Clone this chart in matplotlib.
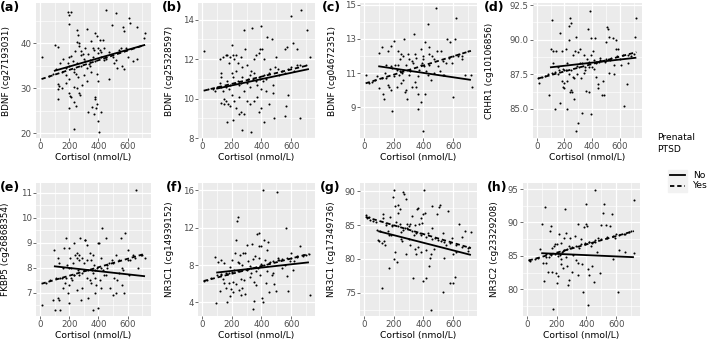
import numpy as np
import matplotlib.pyplot as plt
from matplotlib.lines import Line2D
from matplotlib.patches import Rectangle

# ---------------------------------------------------------------
# Data (cortisol nmol/L, methylation %)
# ---------------------------------------------------------------
panel_tags = ["(a)", "(b)", "(c)", "(d)", "(e)", "(f)", "(g)", "(h)"]
y_labels = ["BDNF (cg27193031)", "BDNF (cg25328597)", "BDNF (cg04672351)",
            "CRHR1 (cg10106856)", "FKBP5 (cg26868354)", "NR3C1 (cg14939152)",
            "NR3C1 (cg17349736)", "NR3C2 (cg23329208)"]
y_ticks = [[20, 30, 40], [8, 10, 12, 14], [9, 11, 13, 15], [85.0, 87.5, 90.0, 92.5],
           [7, 8, 9, 10, 11], [4, 8, 12, 16], [75, 80, 85, 90], [80, 85, 90, 95]]
y_limits = [(18.9, 48.9), (8.0, 14.85), (7.2, 15.1), (82.9, 92.65),
            (6.06, 11.38), (2.55, 16.8), (71.6, 91.2), (76.0, 95.9)]
x_ticks = [0, 200, 400, 600]

pts_a = [(190,46.8),(195,46.2),(210,46.8),(450,47.3),(520,46.6),(610,45.5),(620,44.5),(665,43.6),
         (720,42.2),(715,41.2),(570,43.6),(575,42.7),(490,44.0),(200,44.2),(380,42.2),(390,41.6),
         (325,43.1),(250,42.8),(260,41.9),(430,40.7),(410,40.6),(350,40.4),(15,37.0),(100,39.5),
         (125,39.2),(110,34.2),(140,35.5),(150,33.5),(175,34.5),(190,35.5),(200,37.0),(215,37.2),
         (225,36.0),(240,38.2),(255,40.2),(265,40.0),(270,39.3),(280,38.2),(295,37.5),(300,36.5),
         (310,36.0),(320,34.5),(335,35.4),(345,36.2),(360,38.8),(370,38.5),(380,36.0),(395,38.8),
         (400,37.8),(410,38.5),(420,36.8),(440,39.0),(455,36.5),(470,38.0),(500,37.0),(520,36.2),
         (540,38.5),(555,39.0),(590,38.8),(600,36.8),(640,36.0),(665,36.5),(200,35.0),(230,33.5),
         (245,33.2),(260,32.5),(280,34.8),(300,33.0),(325,31.5),(350,33.5),(390,33.2),(400,31.5),
         (470,32.0),(505,35.5),(530,34.5),(560,35.0),(575,34.3),(120,31.0),(130,30.5),(150,30.0),
         (175,31.2),(195,29.0),(205,28.3),(210,28.0),(235,30.3),(250,30.0),(265,29.0),(275,28.5),
         (290,30.7),(120,29.8),(125,27.5),(195,25.5),(245,26.0),(235,27.0),(330,24.7),(355,25.8),
         (375,28.0),(380,27.5),(385,25.5),(390,26.5),(370,24.3),(400,22.7),(420,24.7),(405,20.3),
         (235,20.8),(415,38.0),(250,35.5),(200,32.0),(160,36.5),(180,33.0),(330,37.5),(360,37.0),
         (440,36.3),(280,37.3),(310,39.0),(60,32.6),(90,33.2),(230,34.2),(340,34.9),(450,36.8)]

pts_b = [(15,12.4),(100,10.6),(120,12.0),(125,11.3),(130,11.1),(140,12.1),(160,12.2),(170,12.2),
         (180,11.8),(190,12.1),(200,12.7),(210,12.2),(215,12.0),(230,12.2),(245,11.8),(260,12.1),
         (270,11.6),(285,13.5),(290,12.5),(300,11.7),(320,11.2),(335,13.6),(350,12.0),(360,12.2),
         (380,12.3),(390,12.5),(400,13.7),(405,12.5),(420,12.0),(440,13.1),(470,13.0),(500,12.1),
         (560,12.5),(575,12.6),(600,14.2),(615,12.8),(640,12.5),(665,14.5),(710,13.5),(725,12.1),
         (90,10.4),(120,10.8),(130,10.6),(140,10.4),(150,10.0),(160,10.6),(170,10.9),(180,10.5),
         (190,10.7),(200,11.3),(210,11.1),(220,10.8),(230,11.4),(240,10.9),(250,10.7),(260,10.8),
         (270,11.1),(280,10.4),(300,10.8),(310,11.0),(320,10.6),(330,11.4),(340,11.0),(350,11.3),
         (360,10.9),(370,10.7),(380,11.1),(390,11.0),(400,10.5),(410,10.9),(420,11.2),(430,11.0),
         (450,11.3),(460,11.5),(480,10.7),(490,11.6),(510,11.5),(520,11.2),(540,11.4),(560,11.3),
         (580,11.5),(600,11.6),(620,11.4),(640,11.7),(660,11.7),(700,11.7),(130,9.8),(150,9.7),
         (160,9.9),(175,9.7),(190,9.6),(200,10.2),(215,9.9),(230,9.5),(250,10.1),(265,9.3),
         (280,9.2),(300,9.9),(320,9.7),(350,9.9),(370,10.1),(380,9.3),(395,9.5),(430,10.4),
         (450,9.7),(480,10.3),(560,9.1),(565,9.6),(580,10.2),(660,9.0),(485,9.0),(420,8.8),
         (270,8.4),(330,8.3),(210,8.9),(170,8.8),(250,9.2),(40,10.5),(70,10.5)]

pts_c = [(10,10.9),(30,10.4),(50,10.5),(70,10.6),(90,10.8),(100,10.1),(100,12.2),(120,12.5),
         (130,9.8),(135,9.5),(140,11.0),(150,10.7),(160,12.3),(170,10.2),(180,10.0),(180,12.6),
         (190,11.3),(190,8.8),(200,12.9),(210,11.5),(220,11.2),(230,12.3),(235,10.9),(240,11.8),
         (250,12.1),(250,10.4),(255,11.0),(260,10.6),(265,12.0),(270,13.0),(275,9.9),(280,11.5),
         (290,9.5),(295,12.1),(300,11.8),(310,11.1),(320,10.2),(330,11.6),(335,13.3),(340,10.5),
         (350,11.9),(360,9.8),(365,8.9),(370,11.2),(380,12.4),(385,9.3),(390,11.6),(395,12.0),
         (400,11.8),(405,11.4),(410,9.8),(400,7.6),(420,11.1),(430,13.9),(435,12.5),(440,11.5),
         (450,10.6),(460,12.0),(470,11.8),(485,14.8),(490,12.3),(500,11.4),(510,11.1),(520,12.3),
         (530,10.9),(540,10.9),(550,11.6),(560,13.0),(570,11.9),(580,12.8),(590,11.6),(600,9.6),
         (610,13.0),(620,14.2),(630,12.0),(640,12.1),(660,11.8),(680,10.9),(700,12.3),(720,10.9),
         (725,10.2),(150,11.5),(200,10.8),(220,10.2),(240,11.1),(260,11.2),(280,10.0),(300,10.9),
         (320,11.7),(340,12.1),(360,10.8),(380,11.5),(410,12.8),(440,12.1),(470,11.0),(530,11.7),
         (600,12.0),(660,12.0),(230,11.5),(180,11.4),(120,10.7),(160,10.3),(350,10.2),(430,10.9)]

pts_d = [(15,86.9),(90,86.0),(100,89.3),(110,91.4),(120,88.3),(130,85.0),(140,89.2),(150,87.5),
         (165,85.4),(170,90.5),(180,87.0),(185,89.2),(190,86.6),(200,87.8),(210,89.3),(215,85.0),
         (220,88.3),(230,90.0),(235,91.0),(240,91.6),(245,86.4),(250,91.2),(255,86.2),(260,88.9),
         (270,85.7),(275,89.2),(280,90.2),(285,83.4),(290,87.5),(300,84.0),(305,88.0),(315,89.3),
         (320,87.2),(330,84.7),(340,88.9),(350,87.8),(355,86.3),(360,88.6),(370,90.8),(375,86.2),
         (385,92.1),(390,84.6),(395,90.1),(400,88.0),(405,89.2),(410,87.9),(420,90.1),(425,88.3),
         (430,87.3),(440,86.8),(445,86.5),(450,88.4),(460,88.7),(480,87.0),(485,86.0),(490,88.4),
         (500,89.8),(510,90.9),(515,90.8),(520,87.6),(525,90.2),(530,88.5),(550,90.1),(560,88.2),
         (570,89.3),(575,90.0),(590,89.3),(600,88.6),(610,88.2),(630,85.2),(650,86.8),(660,88.3),
         (680,88.8),(710,90.2),(720,91.6),(10,87.2),(40,87.3),(60,87.4),(80,87.5),(110,87.6),
         (130,87.7),(160,87.8),(190,87.9),(210,87.8),(230,87.5),(250,87.8),(260,87.3),(270,87.2),
         (290,88.1),(310,88.3),(330,88.3),(350,88.0),(380,88.4),(410,88.5),(430,88.4),(460,88.5),
         (500,88.6),(540,88.7),(580,88.8),(620,88.9),(660,88.9),(700,89.0),(200,86.5),(220,87.0),
         (240,86.2),(380,88.0),(395,88.9),(300,89.1),(150,88.0),(120,89.2),(340,87.6),(470,86.0),
         (560,87.5),(200,86.9)]

pts_e = [(10,6.5),(90,6.7),(95,8.7),(100,6.3),(120,8.4),(120,6.8),(130,6.7),(140,6.3),(150,7.6),
         (160,8.0),(165,8.8),(170,7.4),(180,9.2),(185,8.1),(190,7.0),(195,8.0),(200,6.6),(200,8.8),
         (205,8.4),(210,7.6),(215,8.0),(220,7.5),(225,8.2),(230,9.0),(235,7.7),(240,8.5),(250,7.1),
         (255,8.6),(260,7.9),(265,8.3),(270,7.7),(275,9.2),(280,6.7),(285,8.4),(290,7.2),(300,7.9),
         (305,9.1),(310,9.1),(320,7.6),(325,8.3),(330,6.8),(340,7.5),(345,8.6),(350,8.3),(355,7.9),
         (360,6.3),(365,8.5),(370,8.1),(375,7.0),(380,7.6),(385,7.3),(390,8.0),(395,9.0),(400,6.4),
         (405,9.0),(410,7.5),(415,8.4),(420,7.2),(425,9.6),(430,7.9),(440,7.7),(450,9.2),(460,8.0),
         (470,8.2),(480,7.2),(490,8.3),(500,6.9),(510,7.6),(520,8.5),(530,7.5),(540,7.8),(555,9.2),
         (560,7.3),(570,7.9),(575,7.0),(585,9.4),(600,8.7),(610,7.7),(620,8.3),(640,8.5),(660,11.1),
         (670,8.0),(700,8.5),(720,8.4),(40,7.4),(70,7.5),(110,7.6),(140,7.6),(180,7.6),(230,7.7),
         (250,8.4),(290,7.8),(330,7.9),(360,7.8),(380,7.9),(420,8.0),(460,8.1),(500,8.2),(540,8.3),
         (600,8.3),(650,8.4),(690,8.5),(130,8.2),(160,7.2),(270,8.5),(320,8.9),(200,7.3),(350,7.4),
         (300,8.2),(450,7.7),(520,7.0),(560,8.0)]

pts_f = [(10,6.3),(30,6.4),(60,6.6),(90,8.9),(95,3.9),(110,8.3),(120,5.2),(125,6.9),(130,8.5),
         (140,6.5),(145,8.2),(150,6.1),(160,5.6),(165,7.0),(170,4.1),(180,7.2),(185,4.7),(190,7.8),
         (195,5.4),(200,8.6),(205,6.2),(210,5.1),(215,7.5),(220,9.3),(225,10.7),(230,6.0),(235,12.7),
         (240,13.2),(245,8.3),(250,5.3),(255,9.1),(260,6.5),(265,4.8),(270,8.0),(275,9.3),(280,6.4),
         (290,4.9),(300,7.5),(305,10.2),(310,8.4),(320,6.7),(330,7.2),(335,10.3),(340,3.3),(345,8.7),
         (350,4.2),(355,9.0),(360,7.4),(365,5.9),(370,11.3),(375,7.7),(380,10.0),(385,11.4),(390,6.9),
         (395,10.1),(400,8.1),(405,4.5),(410,4.1),(413,16.1),(420,10.7),(425,8.5),(430,6.1),(440,9.6),
         (445,10.5),(450,5.1),(460,8.3),(470,6.9),(480,7.2),(485,6.0),(495,5.2),(505,15.8),(510,8.8),
         (520,8.6),(540,7.7),(560,8.0),(565,12.0),(575,6.8),(580,5.2),(590,8.4),(600,9.3),(610,7.5),
         (620,8.4),(640,8.9),(660,10.0),(680,9.0),(700,9.1),(725,4.8),(720,9.2),(100,6.9),(130,7.0),
         (160,7.2),(200,7.3),(240,7.4),(270,7.5),(300,7.6),(330,7.7),(360,7.8),(390,7.9),(420,8.0),
         (450,8.2),(480,8.4),(510,8.6),(540,8.7),(570,8.8),(600,8.8),(640,9.0),(680,9.1),(250,8.2),
         (290,9.3),(320,7.9),(350,6.2),(270,5.6),(180,6.1),(440,7.4),(380,8.8)]

pts_g = [(10,86.5),(20,86.0),(40,85.8),(60,85.6),(90,84.3),(95,82.8),(100,82.6),(110,84.1),
         (120,75.8),(125,86.1),(130,86.6),(135,82.7),(140,82.1),(150,85.3),(160,84.2),(165,78.7),
         (175,86.2),(180,83.5),(190,84.8),(195,89.2),(200,90.1),(200,80.0),(205,87.8),(210,81.0),
         (215,85.5),(220,79.6),(225,86.8),(230,88.0),(240,85.2),(245,87.3),(250,83.0),(255,82.7),
         (265,89.9),(270,89.6),(275,84.5),(280,88.9),(285,80.7),(290,85.2),(300,84.8),(305,83.0),
         (310,85.1),(320,86.3),(330,77.2),(335,83.5),(340,81.5),(345,85.0),(350,80.8),(355,87.4),
         (360,81.7),(365,87.5),(370,85.2),(375,83.9),(380,86.0),(385,81.0),(390,85.3),(395,86.6),
         (400,76.7),(405,90.2),(410,86.8),(415,81.3),(420,77.2),(430,83.8),(440,79.0),(445,80.2),
         (450,72.5),(455,87.8),(460,84.5),(470,81.5),(480,83.1),(490,86.6),(505,87.7),(510,87.9),
         (520,82.7),(530,75.1),(540,80.2),(550,82.0),(565,87.1),(580,76.5),(590,83.1),(600,76.5),
         (610,77.3),(620,81.0),(640,85.1),(660,83.3),(680,84.1),(700,81.2),(720,84.0),(30,86.2),
         (80,85.5),(150,85.0),(190,85.0),(230,84.8),(260,84.3),(290,84.6),(320,84.2),(350,83.8),
         (380,83.5),(420,83.3),(460,83.0),(500,82.8),(540,82.5),(580,82.3),(620,82.0),(660,81.7),
         (700,81.6),(710,81.8),(120,82.3),(170,83.5),(250,84.0),(310,82.0),(450,80.8),(530,83.8),
         (600,80.7)]

pts_h = [(10,84.4),(20,84.2),(50,84.5),(70,84.7),(90,86.0),(100,89.8),(110,84.0),(115,81.3),
         (120,92.3),(125,84.0),(130,85.3),(140,82.6),(150,84.8),(155,88.7),(160,89.5),(165,86.1),
         (170,82.6),(175,77.0),(180,86.5),(190,86.7),(195,82.5),(200,86.7),(200,81.0),(205,85.0),
         (210,82.0),(215,88.2),(220,85.2),(225,84.6),(230,86.9),(235,85.6),(240,83.2),(250,85.9),
         (255,92.0),(260,84.8),(265,88.4),(270,83.5),(275,80.7),(280,86.5),(285,81.4),(290,87.7),
         (300,82.6),(310,85.2),(320,88.0),(330,84.4),(340,89.8),(345,82.1),(350,86.2),(360,87.5),
         (370,83.8),(375,79.6),(380,89.3),(390,86.8),(395,92.8),(400,89.8),(405,89.5),(410,77.7),
         (415,87.0),(420,82.2),(430,86.4),(435,83.5),(440,86.9),(450,81.1),(455,94.8),(460,87.0),
         (470,85.6),(480,87.6),(490,82.5),(500,89.6),(510,91.4),(520,92.7),(530,89.6),(540,87.8),
         (560,89.5),(570,91.2),(580,84.6),(590,87.6),(600,88.3),(610,79.6),(620,85.9),(650,88.3),
         (660,85.6),(700,88.7),(720,93.3),(720,85.4),(130,84.9),(160,85.1),(190,85.3),(210,85.5),
         (240,85.8),(270,86.0),(300,86.3),(330,86.5),(360,86.7),(390,86.9),(420,87.0),(460,87.3),
         (500,87.5),(540,87.7),(580,87.9),(620,88.1),(660,88.3),(690,88.5),(230,83.8),(290,86.1),
         (340,84.0),(410,83.0),(250,87.6)]

# fitted lines: x extent per group and y at both ends for each panel
no_x = [95, 720]
yes_x = [10, 720]
no_y0 = [33.8, 10.5, 11.4, 88.0, 8.05, 7.2, 84.1, 85.4]
no_y1 = [39.6, 11.5, 10.6, 88.7, 7.65, 8.3, 80.6, 84.8]
yes_y0 = [32.0, 10.4, 10.4, 87.2, 7.35, 6.3, 86.2, 84.3]
yes_y1 = [39.6, 11.7, 12.3, 89.1, 8.55, 9.2, 81.6, 88.7]

all_pts = [pts_a, pts_b, pts_c, pts_d, pts_e, pts_f, pts_g, pts_h]

# ---------------------------------------------------------------
# Layout (pixel boxes of each panel: left, right, top, bottom)
# ---------------------------------------------------------------
W, H = 709, 343
boxes = [(36, 151, 3, 138), (198, 315, 3, 138), (360, 477, 3, 138), (533, 642, 3, 138),
         (36, 151, 183, 316), (198, 315, 183, 316), (360, 477, 183, 316), (523, 640, 183, 316)]
ylab_x = [11, 174, 337, 494, 10, 174, 336, 499]
tag_x = [0, 162, 322, 484, 0, 166, 320, 487]

fig = plt.figure(figsize=(W / 100, H / 100), dpi=100)

for i, pts in enumerate(all_pts):
    l, r, t, b = boxes[i]
    ax = fig.add_axes([l / W, 1 - b / H, (r - l) / W, (b - t) / H])
    ax.set_facecolor('#EBEBEB')
    for s in ax.spines.values():
        s.set_visible(False)

    x, y = zip(*pts)
    ax.scatter(x, y, s=2.2, color='black', linewidths=0, zorder=3)
    ax.plot(no_x, [no_y0[i], no_y1[i]], color='black', lw=1.3, zorder=4,
            solid_capstyle='butt')
    ax.plot(yes_x, [yes_y0[i], yes_y1[i]], color='black', lw=1.3, zorder=4,
            dashes=(2.4, 1.6))

    ax.set_xlim(-28, 761)
    ax.set_xticks(x_ticks)
    ax.set_yticks(y_ticks[i])
    if i == 3:
        ax.set_yticklabels([f"{v:.1f}" for v in y_ticks[i]])
    yt = y_ticks[i]
    step = yt[1] - yt[0]
    ax.set_xticks([100, 300, 500, 700], minor=True)
    ax.set_yticks([v + step / 2 for v in [yt[0] - step] + yt], minor=True)
    ax.set_ylim(*y_limits[i])
    ax.grid(True, which='major', color='white', lw=0.9)
    ax.grid(True, which='minor', color='white', lw=0.45)
    ax.set_axisbelow(True)
    ax.tick_params(which='major', length=2, width=0.5, color='#333333',
                   labelsize=6.2, labelcolor='#4D4D4D', pad=1)
    ax.tick_params(which='minor', length=0)

    ax.set_xlabel("Cortisol (nmol/L)", fontsize=6.6, labelpad=1.5)
    ax.set_ylabel(y_labels[i], fontsize=6.4)
    ax.yaxis.set_label_coords((ylab_x[i] - l) / (r - l), 0.5)

    fig.text(tag_x[i] / W, 1 - (t + 4) / H, panel_tags[i], fontsize=9,
             fontweight='bold', ha='left', va='center')

# legend drawn by hand to mimic ggplot key boxes
fig.text(657 / W, 1 - 138 / H, "Prenatal", fontsize=6.6, va='center')
fig.text(657 / W, 1 - 150 / H, "PTSD", fontsize=6.6, va='center')
leg_labels = ["No", "Yes"]
leg_dash = [None, (2.4, 1.6)]
for k, lab in enumerate(leg_labels):
    yc = 175 + k * 11
    fig.patches.append(Rectangle((668 / W, 1 - (yc + 5.5) / H), 19 / W, 11 / H,
                                 transform=fig.transFigure, color='#F2F2F2', zorder=1))
    ln = Line2D([670 / W, 685 / W], [1 - yc / H, 1 - yc / H], transform=fig.transFigure,
                color='black', lw=1.3, zorder=2)
    if leg_dash[k]:
        ln.set_dashes(leg_dash[k])
    fig.lines.append(ln)
    fig.text(693 / W, 1 - yc / H, lab, fontsize=6.6, va='center')

fig.savefig("out.png", dpi=100)
